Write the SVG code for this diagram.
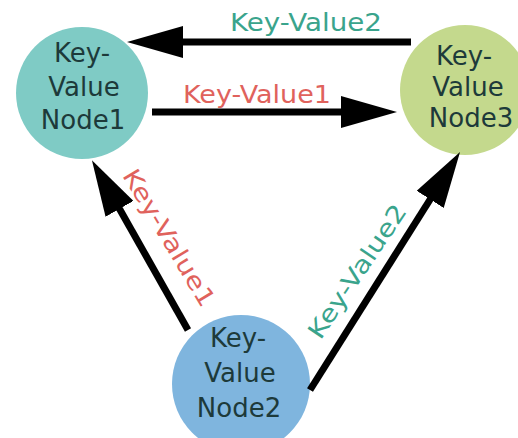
<svg xmlns="http://www.w3.org/2000/svg" width="518" height="438" viewBox="0 0 518 438">
<style>
.node-text{font-family:"DejaVu Sans","Liberation Sans",sans-serif;font-size:26px;fill:#1d3a3a;text-anchor:middle}
.lbl{font-family:"DejaVu Sans","Liberation Sans",sans-serif;font-size:24px;text-anchor:middle}
.red{fill:#e0625c}
.teal{fill:#3aa48c}
.edge{stroke:#000;stroke-width:7;fill:none;marker-end:url(#ah)}
</style>
<defs>
<marker id="ah" markerUnits="userSpaceOnUse" markerWidth="56" markerHeight="32" viewBox="0 0 56 32" refX="1" refY="16" orient="auto">
<path d="M0,0 L56,16 L0,32 Z" fill="#000"/>
</marker>
</defs>
<rect width="518" height="438" fill="#fff"/>
<g id="node1">
<circle cx="82" cy="93" r="66" fill="#7fcbc5"/>
<text class="node-text" x="82" y="62">Key-</text>
<text class="node-text" x="84" y="96">Value</text>
<text class="node-text" x="83" y="129">Node1</text>
</g>
<g id="node3">
<circle cx="465" cy="90" r="65" fill="#c4d98d"/>
<text class="node-text" x="464" y="65">Key-</text>
<text class="node-text" x="468" y="96">Value</text>
<text class="node-text" x="471" y="127">Node3</text>
</g>
<g id="node2">
<circle cx="241" cy="384" r="69" fill="#7fb5de"/>
<text class="node-text" x="238" y="347">Key-</text>
<text class="node-text" x="240" y="382">Value</text>
<text class="node-text" x="239" y="417">Node2</text>
</g>
<g id="connectors">
<line class="edge" x1="411" y1="42" x2="182" y2="42"/>
<line class="edge" x1="152" y1="112" x2="342" y2="112"/>
<line class="edge" x1="188" y1="330" x2="119" y2="208"/>
<line class="edge" x1="310" y1="390" x2="430.7" y2="198.5"/>
<text class="lbl teal" x="306" y="31" textLength="152" lengthAdjust="spacingAndGlyphs">Key-Value2</text>
<text class="lbl red" x="257" y="103" textLength="148" lengthAdjust="spacingAndGlyphs">Key-Value1</text>
<text class="lbl red" transform="translate(162,242) rotate(59)" x="0" y="0" textLength="156" lengthAdjust="spacingAndGlyphs">Key-Value1</text>
<text class="lbl teal" transform="translate(364,276) rotate(-56)" x="0" y="0" textLength="156" lengthAdjust="spacingAndGlyphs">Key-Value2</text>
</g>
</svg>
